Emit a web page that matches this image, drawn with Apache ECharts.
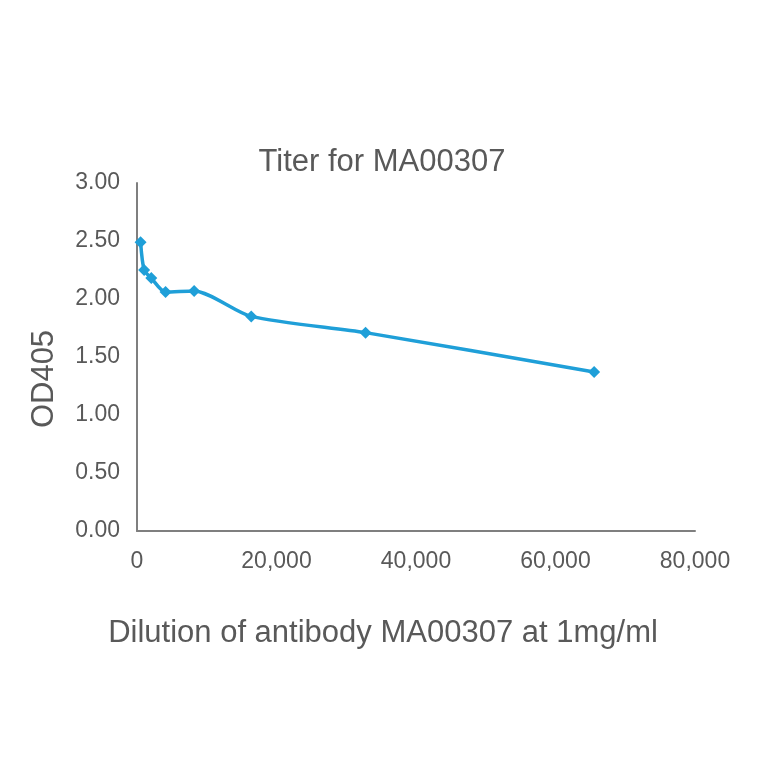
<!DOCTYPE html>
<html>
<head>
<meta charset="utf-8">
<script src="https://cdn.jsdelivr.net/npm/echarts@6/dist/echarts.min.js"></script>
<style>
html,body{margin:0;padding:0;background:#fff;}
#chart{width:764px;height:764px;}
</style>
</head>
<body>
<div id="chart"></div>
<script>
const titleText = 'Titer for MA00307';
const xAxisName = 'Dilution of antibody MA00307 at 1mg/ml';
const yAxisName = 'OD405';
const dilutions = [512, 1024, 2048, 4096, 8192, 16384, 32768, 65536];
const od405 = [2.49, 2.25, 2.18, 2.06, 2.07, 1.85, 1.71, 1.37];
const yTicks = [0, 0.5, 1.0, 1.5, 2.0, 2.5, 3.0];
const xTicks = [0, 20000, 40000, 60000, 80000];

const chart = echarts.init(document.getElementById('chart'), null, {renderer: 'canvas'});
const font = '"Liberation Sans", Arial, sans-serif';
const textColor = '#595959';
chart.setOption({
  animation: false,
  backgroundColor: '#fff',
  title: {
    text: titleText,
    left: 'center',
    top: 142,
    textStyle: {fontFamily: font, fontSize: 31, fontWeight: 'normal', color: textColor}
  },
  grid: {left: 137, right: 69, top: 183, bottom: 233, containLabel: false},
  xAxis: {
    type: 'value',
    min: xTicks[0],
    max: xTicks[xTicks.length - 1],
    interval: 20000,
    name: xAxisName,
    nameLocation: 'middle',
    nameGap: 87,
    nameTextStyle: {fontFamily: font, fontSize: 31, color: textColor, padding: [0, 66, 0, 0]},
    axisLine: {show: true, lineStyle: {color: '#7f7f7f', width: 2}},
    axisTick: {show: false},
    splitLine: {show: false},
    axisLabel: {
      fontFamily: font, fontSize: 23, color: textColor, margin: 19,
      formatter: v => v.toLocaleString('en-US')
    }
  },
  yAxis: {
    type: 'value',
    min: yTicks[0],
    max: yTicks[yTicks.length - 1],
    interval: 0.5,
    name: yAxisName,
    nameLocation: 'middle',
    nameRotate: 90,
    nameGap: 77,
    nameTextStyle: {fontFamily: font, fontSize: 31, color: textColor, padding: [0, 44, 0, 0]},
    axisLine: {show: true, lineStyle: {color: '#7f7f7f', width: 2}},
    axisTick: {show: false},
    splitLine: {show: false},
    axisLabel: {
      fontFamily: font, fontSize: 23, color: textColor, margin: 17,
      formatter: v => v.toFixed(2)
    }
  },
  series: [{
    type: 'line',
    data: dilutions.map((d, i) => [d, od405[i]]),
    smooth: 0.25,
    symbol: 'diamond',
    symbolSize: 12,
    lineStyle: {color: '#1f9fd8', width: 3.5},
    itemStyle: {color: '#1f9fd8'}
  }]
});
</script>
</body>
</html>
